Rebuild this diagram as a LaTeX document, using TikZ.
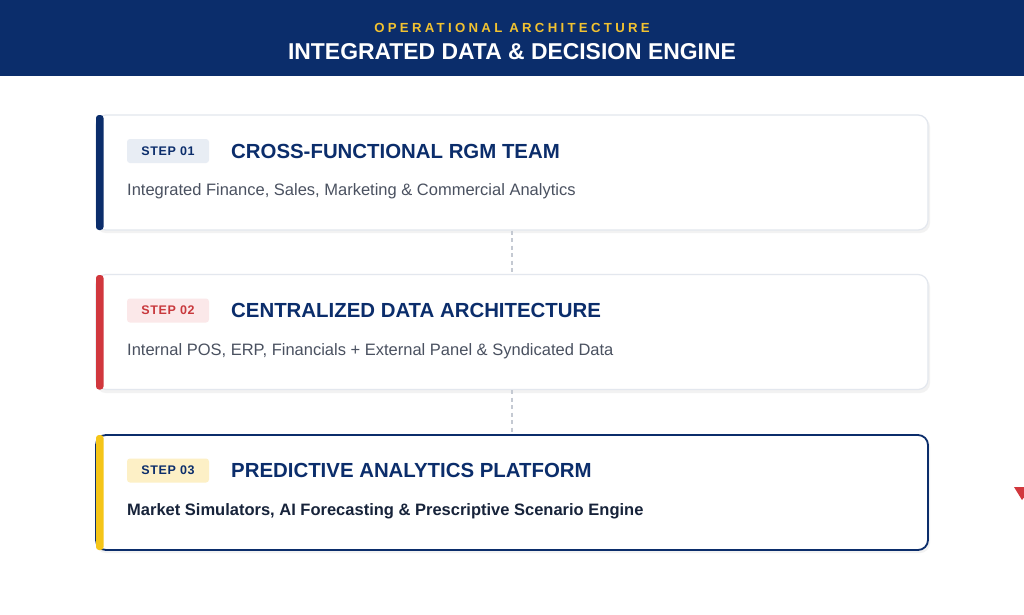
\documentclass[tikz,border=0pt]{standalone}
\usepackage{fontspec}
\setmainfont{Liberation Sans}
\definecolor{navy}{HTML}{0B2D6B}
\definecolor{gold}{HTML}{F2C230}
\definecolor{cardline}{HTML}{E3E7EE}
\definecolor{subgray}{HTML}{4A5160}
\definecolor{stepred}{HTML}{C8383C}
\definecolor{barred}{HTML}{D1373D}
\definecolor{baryellow}{HTML}{F5C518}
\definecolor{badgegray}{HTML}{E8EDF4}
\definecolor{badgepink}{HTML}{FBE8E9}
\definecolor{badgeyellow}{HTML}{FDF0C6}
\definecolor{dashgray}{HTML}{C4C9D2}
\definecolor{darktext}{HTML}{17233A}
\begin{document}
\begin{tikzpicture}[x=1pt,y=-1pt,
  card/.style={draw=cardline, line width=1.2pt, fill=white, rounded corners=10pt, minimum width=832pt, minimum height=115pt, inner sep=0pt},
  shadowbox/.style={fill=black!5, rounded corners=10pt, minimum width=834pt, minimum height=116pt, inner sep=0pt, draw=none},
  badge/.style={rounded corners=3pt, minimum width=82pt, minimum height=24pt, inner sep=0pt, font=\bfseries\fontsize{12.5}{12.5}\selectfont\addfontfeature{LetterSpace=5}},
  ttl/.style={anchor=west, inner sep=0pt, text=navy, font=\bfseries\fontsize{20.4}{20.4}\selectfont},
  sub/.style={anchor=west, inner sep=0pt, text=subgray, font=\fontsize{16.5}{16.5}\selectfont},
  conn/.style={draw=dashgray, line width=1.3pt, dash pattern=on 4pt off 3.5pt}
]
\useasboundingbox (0,0) rectangle (1024,614);
\fill[white] (0,0) rectangle (1024,614);
% header
\fill[navy] (0,0) rectangle (1024,76);
\node[inner sep=0pt, text=gold, font=\bfseries\fontsize{13.2}{13.2}\selectfont] (kicker) at (512,28) {\addfontfeature{LetterSpace=25}OPERATIONAL ARCHITECTURE};
\node[inner sep=0pt, text=white, font=\bfseries\fontsize{22.9}{22.9}\selectfont] (title) at (512,51.5) {INTEGRATED DATA \& DECISION ENGINE};
% shadows
\node[shadowbox] at (513,175) {};
\node[shadowbox] at (513,335) {};
\node[shadowbox] at (513,495) {};
% cards
\node[card] (c1) at (512,172.5) {};
\node[card] (c2) at (512,332) {};
\node[card, draw=navy, line width=1.8pt] (c3) at (512,492.5) {};
% accent bars
\fill[navy, rounded corners=3pt] (96,115) rectangle (103.5,230);
\fill[barred, rounded corners=3pt] (96,275) rectangle (103.5,389.5);
\fill[baryellow, rounded corners=3pt] (96,435) rectangle (103.5,550);
% connectors
\draw[conn] (c1.south) -- (c2.north);
\draw[conn] (c2.south) -- (c3.north);
% card 1
\node[badge, fill=badgegray, text=navy] (b1) at (168,151) {STEP 01};
\node[ttl] (t1) at (231,151) {CROSS-FUNCTIONAL RGM TEAM};
\node[sub] (s1) at (127,191) {Integrated Finance, Sales, Marketing \& Commercial Analytics};
% card 2
\node[badge, fill=badgepink, text=stepred] (b2) at (168,310.5) {STEP 02};
\node[ttl] (t2) at (231,310.5) {CENTRALIZED DATA ARCHITECTURE};
\node[sub] (s2) at (127,351.5) {Internal POS, ERP, Financials + External Panel \& Syndicated Data};
% card 3
\node[badge, fill=badgeyellow, text=navy] (b3) at (168,470.5) {STEP 03};
\node[ttl] (t3) at (231,470.5) {PREDICTIVE ANALYTICS PLATFORM};
\node[sub, text=darktext, font=\bfseries\fontsize{16.5}{16.5}\selectfont] (s3) at (127,511.5) {Market Simulators, AI Forecasting \& Prescriptive Scenario Engine};
% partial red triangle at right edge
\fill[barred] (1014,487) -- (1032,487) -- (1022,500) -- cycle;
\end{tikzpicture}
\end{document}
